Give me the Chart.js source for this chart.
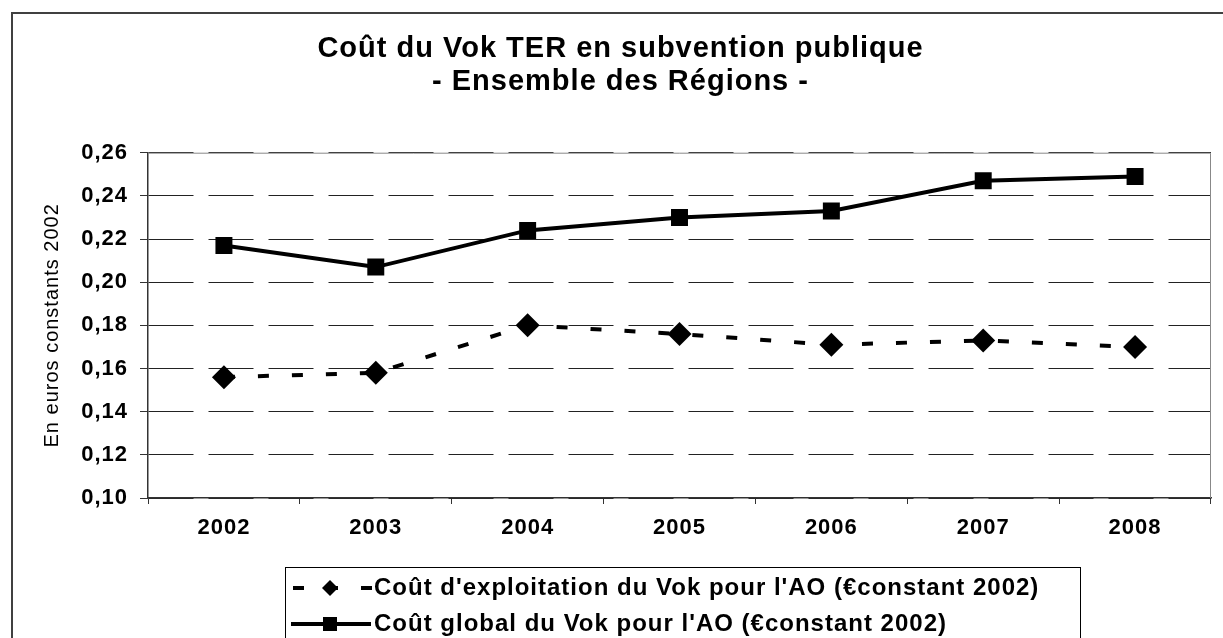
<!DOCTYPE html>
<html>
<head>
<meta charset="utf-8">
<script src="https://cdn.jsdelivr.net/npm/chart.js@4.4.0/dist/chart.umd.min.js"></script>
<style>
    body { margin: 0; background: #fff; }
    canvas { display: block; }
</style>
</head>
<body>
<canvas id="vokChart" width="1223" height="638"></canvas>
<script>
const years = ['2002', '2003', '2004', '2005', '2006', '2007', '2008'];
const coutExploitation = [0.156, 0.158, 0.180, 0.176, 0.171, 0.173, 0.170];
const coutGlobal = [0.217, 0.207, 0.224, 0.230, 0.233, 0.247, 0.249];
const seriesLabels = [
    "Coût d'exploitation du Vok pour l'AO (€constant 2002)",
    "Coût global du Vok pour l'AO (€constant 2002)"
];
const titleLines = ['Coût du Vok TER en subvention publique', '- Ensemble des Régions -'];
const yMin = 0.10, yMax = 0.26, yStep = 0.02;

Chart.defaults.font.family = 'Arial, "Liberation Sans", sans-serif';
Chart.defaults.color = '#000';

// text in the original is drawn a bit wide
const spacingPlugin = {
    id: 'spacing',
    beforeUpdate(chart) { chart.ctx.letterSpacing = '1px'; },
    beforeLayout(chart) { chart.ctx.letterSpacing = '1px'; },
    beforeDraw(chart) { chart.ctx.letterSpacing = '1px'; }
};

const framePlugin = {
    id: 'frame',
    beforeDraw(chart) {
        const ctx = chart.ctx;
        ctx.save();
        ctx.strokeStyle = '#404040';
        ctx.lineWidth = 2;
        ctx.strokeRect(12, 13, 1400, 1000);
        ctx.restore();
    },
    beforeDatasetsDraw(chart) {
        const ctx = chart.ctx;
        const a = chart.chartArea;
        ctx.save();
        ctx.strokeStyle = '#888';
        ctx.lineWidth = 1;
        ctx.beginPath();
        ctx.moveTo(a.left, a.top + 0.5);
        ctx.lineTo(a.right - 0.5, a.top + 0.5);
        ctx.lineTo(a.right - 0.5, a.bottom);
        ctx.stroke();
        ctx.restore();
    }
};

const legendPlugin = {
    id: 'boxLegend',
    afterDraw(chart) {
        const ctx = chart.ctx;
        const ds = chart.data.datasets;
        ctx.save();
        ctx.strokeStyle = '#000';
        ctx.lineWidth = 1;
        ctx.strokeRect(285.5, 567.5, 795, 200);

        const rows = [588, 624];
        ctx.fillStyle = '#000';
        ctx.strokeStyle = '#000';
        ctx.lineWidth = 4;

        // dashed line + diamond
        ctx.setLineDash([11, 23]);
        ctx.beginPath();
        ctx.moveTo(293, rows[0]);
        ctx.lineTo(372, rows[0]);
        ctx.stroke();
        ctx.setLineDash([]);
        ctx.beginPath();
        ctx.moveTo(330, rows[0] - 8);
        ctx.lineTo(338, rows[0]);
        ctx.lineTo(330, rows[0] + 8);
        ctx.lineTo(322, rows[0]);
        ctx.closePath();
        ctx.fill();

        // solid line + square
        ctx.beginPath();
        ctx.moveTo(291, rows[1]);
        ctx.lineTo(371, rows[1]);
        ctx.stroke();
        ctx.fillRect(323, rows[1] - 7, 14, 14);

        ctx.font = 'bold 24px Arial, "Liberation Sans", sans-serif';
        ctx.letterSpacing = '1px';
        ctx.textBaseline = 'middle';
        ctx.textAlign = 'left';
        ctx.fillText(ds[0].label, 374, rows[0]);
        ctx.fillText(ds[1].label, 374, rows[1]);
        ctx.restore();
    }
};

const ctx = document.getElementById('vokChart').getContext('2d');
new Chart(ctx, {
    type: 'line',
    data: {
        labels: years,
        datasets: [
            {
                label: seriesLabels[0],
                data: coutExploitation,
                borderColor: '#000',
                backgroundColor: '#000',
                borderWidth: 4,
                borderDash: [11, 23],
                pointStyle: 'rectRot',
                pointRadius: 12,
                pointBorderWidth: 0,
                tension: 0,
                fill: false
            },
            {
                label: seriesLabels[1],
                data: coutGlobal,
                borderColor: '#000',
                backgroundColor: '#000',
                borderWidth: 4,
                pointStyle: 'rect',
                pointRadius: 12,
                pointBorderWidth: 0,
                tension: 0,
                fill: false
            }
        ]
    },
    options: {
        responsive: false,
        animation: false,
        layout: {
            padding: { left: 22, right: 4, top: 0, bottom: 90 }
        },
        plugins: {
            legend: { display: false },
            tooltip: { enabled: false },
            title: {
                display: true,
                text: titleLines,
                color: '#000',
                font: { size: 29, weight: 'bold', lineHeight: 1.15 },
                padding: { top: 32, bottom: 54 }
            }
        },
        scales: {
            x: {
                offset: true,
                afterFit: function(scale) { scale.height = 50; },
                grid: {
                    offset: true,
                    drawOnChartArea: false,
                    drawTicks: true,
                    tickLength: 6,
                    color: '#333',
                    tickColor: '#333'
                },
                border: { color: '#333', width: 1.5 },
                ticks: {
                    font: { size: 22, weight: 'bold' },
                    color: '#000',
                    padding: 11,
                    maxRotation: 0,
                    autoSkip: false
                }
            },
            y: {
                min: yMin,
                max: yMax,
                afterFit: function(scale) { scale.width = 126; },
                grid: {
                    color: '#222',
                    lineWidth: 1,
                    tickLength: 8,
                    tickColor: '#333'
                },
                border: { color: '#333', width: 1.5, dash: [45, 15] },
                ticks: {
                    stepSize: yStep,
                    font: { size: 22, weight: 'bold' },
                    color: '#000',
                    padding: 12,
                    callback: function(value) {
                        return value.toFixed(2).replace('.', ',');
                    }
                },
                title: {
                    display: true,
                    text: 'En euros constants 2002',
                    color: '#000',
                    font: { size: 20 },
                    padding: { top: 18, bottom: 0 }
                }
            }
        }
    },
    plugins: [spacingPlugin, framePlugin, legendPlugin]
});
</script>
</body>
</html>
